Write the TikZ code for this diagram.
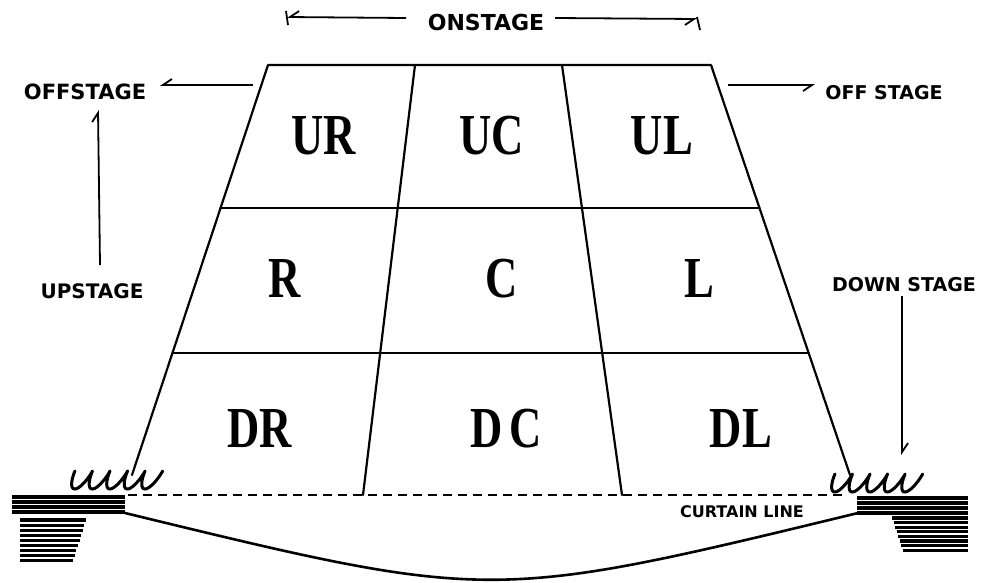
\documentclass[tikz,border=0pt]{standalone}
\usepackage{fontspec}
\usepackage{graphicx}
\newfontfamily\labfont{DejaVu Sans}
\newfontfamily\cellfont{Liberation Serif}
\usetikzlibrary{arrows.meta,calc}
\tikzset{
  stageline/.style={line width=2.2pt, line cap=round, line join=round},
  lab/.style={font=\labfont\bfseries, inner sep=0pt},
  cell/.style={font=\cellfont\bfseries\fontsize{58}{60}\selectfont, inner sep=0pt},
  harp/.style={line width=1.8pt, -{Straight Barb[harpoon, length=9pt, width=12pt, line width=1.8pt]}},
  harpsw/.style={line width=1.8pt, -{Straight Barb[harpoon, swap, length=9pt, width=12pt, line width=1.8pt]}},
  tick/.style={line width=1.8pt},
  curtain/.style={line width=2.4pt, dash pattern=on 9pt off 6pt},
  hatch/.style={line width=3.6pt},
  hatchlow/.style={line width=3.2pt},
  squig/.style={line width=3pt, line cap=round, line join=round},
}
\newcommand{\cellt}[1]{\scalebox{0.77}[1]{#1}}
\begin{document}
\begin{tikzpicture}[x=1pt,y=-1pt]
\useasboundingbox (0,0) rectangle (985,582);
% stage corners
\coordinate (TL) at (268,65);
\coordinate (TR) at (711,65);
\coordinate (BL) at (132,475);
\coordinate (BR) at (850,475);
\coordinate (I1t) at (415,65);
\coordinate (I1b) at (363,495);
\coordinate (I2t) at (562,65);
\coordinate (I2b) at (622,495);
\coordinate (L1) at ($(TL)!0.3488!(BL)$);
\coordinate (L2) at ($(TL)!0.7024!(BL)$);
\coordinate (R1) at ($(TR)!0.3488!(BR)$);
\coordinate (R2) at ($(TR)!0.7024!(BR)$);
% stage outline and grid
\draw[stageline] (BL) -- (TL) -- (TR) -- (BR);
\draw[stageline] (L1) -- (R1);
\draw[stageline] (L2) -- (R2);
\draw[stageline] (I1t) -- (I1b);
\draw[stageline] (I2t) -- (I2b);
% curtain line
\coordinate (CL) at (128,495);
\coordinate (CR) at (846,495);
\draw[curtain] (CL) -- (CR);
% apron arc
\coordinate (AL) at (125,513);
\coordinate (AR) at (858,513);
\draw[line width=2.6pt] (AL) .. controls (491,602) and (491,602) .. (AR);
% cell labels
\node[cell] (UR) at (324,136) {\cellt{UR}};
\node[cell] (UC) at (492,136) {\cellt{UC}};
\node[cell] (UL) at (662,136) {\cellt{UL}};
\node[cell] (R) at (285,279) {\cellt{R}};
\node[cell] (C) at (502,279) {\cellt{C}};
\node[cell] (L) at (699,279) {\cellt{L}};
\node[cell] (DR) at (260,429) {\cellt{DR}};
\node[cell] (DC) at (506,429) {\cellt{D\hspace{8pt}C}};
\node[cell] (DL) at (741,429) {\cellt{DL}};
% direction labels
\node[lab, font=\labfont\bfseries\fontsize{22}{24}\selectfont] (onstage) at (486,22) {ONSTAGE};
\node[lab, font=\labfont\bfseries\fontsize{21}{23}\selectfont] (offL) at (85,92) {OFFSTAGE};
\node[lab, font=\labfont\bfseries\fontsize{19}{21}\selectfont] (offR) at (884,93) {OFF STAGE};
\node[lab, font=\labfont\bfseries\fontsize{20}{22}\selectfont] (upS) at (92,291) {UPSTAGE};
\node[lab, font=\labfont\bfseries\fontsize{19}{21}\selectfont] (downS) at (904,285) {DOWN STAGE};
\node[lab, font=\labfont\bfseries\fontsize{16}{18}\selectfont] (curt) at (742,512) {CURTAIN LINE};
% arrows
\coordinate (onLa) at (406,18);
\coordinate (onLt) at (287,17);
\coordinate (onRa) at (555,18);
\coordinate (onRt) at (697,19);
\draw[harpsw] (onLa) -- (onLt);
\draw[harpsw] (onRa) -- (onRt);
\draw[tick] (286,11) -- (288,25);
\draw[tick] (697,17) -- (700,30);
\coordinate (offLa) at (253,85);
\coordinate (offLt) at (160,85);
\draw[harpsw] (offLa) -- (offLt);
\coordinate (offRa) at (728,85);
\coordinate (offRt) at (815,85);
\draw[harpsw] (offRa) -- (offRt);
\coordinate (upa) at (100,265);
\coordinate (upt) at (98,110);
\draw[harp] (upa) -- (upt);
\coordinate (dna) at (902,296);
\coordinate (dnt) at (902,455);
\draw[harp] (dna) -- (dnt);
% wings (hatched)
\foreach \y in {497,502,507,512} \draw[hatch] (12,\y) -- (125,\y);
\foreach \i in {0,...,8} {
  \pgfmathsetmacro{\yy}{520+5.1*\i}
  \pgfmathsetmacro{\xr}{86-1.6*\i}
  \draw[hatchlow] (20,\yy) -- (\xr,\yy);
}
\foreach \y in {498,503,508,513} \draw[hatch] (857,\y) -- (968,\y);
\foreach \i in {0,...,7} {
  \pgfmathsetmacro{\yy}{518+4.6*\i}
  \pgfmathsetmacro{\xl}{892+1.5*\i}
  \draw[hatchlow] (\xl,\yy) -- (968,\yy);
}
% squiggles
\draw[squig] plot[domain=0:31.4, samples=300, variable=\t]
  ({66+0.31*9*(\t-sin(\t r))+0.5*9*(1+cos(\t r))}, {471+9*(1-cos(\t r))});
\draw[squig] plot[domain=0:31.4, samples=300, variable=\t]
  ({826+0.31*9*(\t-sin(\t r))+0.5*9*(1+cos(\t r))}, {474+9*(1-cos(\t r))});
\end{tikzpicture}
\end{document}
